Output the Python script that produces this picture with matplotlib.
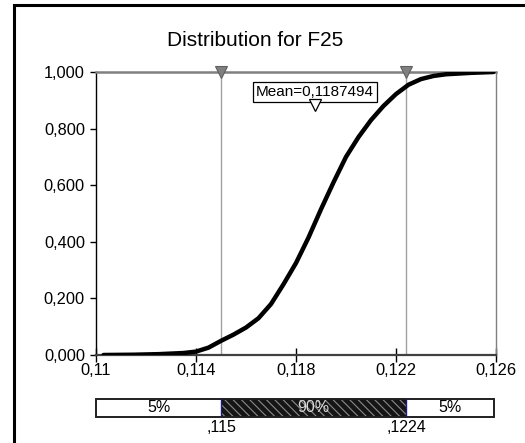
import matplotlib
matplotlib.use("Agg")
import matplotlib.pyplot as plt
from matplotlib.patches import Rectangle
from matplotlib.ticker import FixedLocator

plt.rcParams['font.family'] = ['Liberation Sans', 'DejaVu Sans']
plt.rcParams['hatch.linewidth'] = 0.8

# Cumulative distribution of F25
values = [0.1103, 0.1115, 0.1125, 0.1135, 0.1140, 0.1145, 0.1150, 0.1155,
          0.1160, 0.1165, 0.1170, 0.1175, 0.1180, 0.1185, 0.1190, 0.1195,
          0.1200, 0.1205, 0.1210, 0.1215, 0.1220, 0.1225, 0.1230, 0.1235,
          0.1240, 0.1250, 0.1259]
cum_prob = [0.000, 0.001, 0.003, 0.007, 0.012, 0.026, 0.050, 0.072,
            0.097, 0.130, 0.180, 0.250, 0.325, 0.415, 0.515, 0.610,
            0.700, 0.770, 0.830, 0.880, 0.922, 0.955, 0.975, 0.986,
            0.992, 0.997, 1.000]

mean_value = 0.1187494
lower_pct, upper_pct = 0.115, 0.1224
band_labels = ["5%", "90%", "5%"]
band_edge_labels = [",115", ",1224"]

x_ticks = [0.11, 0.114, 0.118, 0.122, 0.126]
x_tick_labels = ["0,11", "0,114", "0,118", "0,122", "0,126"]
y_ticks = [0.0, 0.2, 0.4, 0.6, 0.8, 1.0]
y_tick_labels = ["0,000", "0,200", "0,400", "0,600", "0,800", "1,000"]

W, H = 525, 443
fig = plt.figure(figsize=(W / 100, H / 100), dpi=100)

# outer frame (left and top edges)
fig.add_artist(Rectangle((14 / W, -0.2), 1.5, 1.2 - 7 / H + 0.004,
                         transform=fig.transFigure, fill=False,
                         edgecolor='black', linewidth=2.2))

fig.text(255 / W, 1 - 40 / H, "Distribution for F25", ha='center', va='center',
         fontsize=15)

ax = fig.add_axes([96 / W, 1 - 355 / H, 400 / W, 283 / H])
ax.set_xlim(0.11, 0.126)
ax.set_ylim(0, 1.0)

ax.plot(values, cum_prob, color='black', linewidth=3.2, solid_capstyle='round',
        solid_joinstyle='round', zorder=5)

for v in (lower_pct, upper_pct):
    ax.axvline(v, color='#a0a0a0', linewidth=1.0, zorder=2)
    ax.plot([v], [1.0], marker='v', markersize=8, markerfacecolor='#808080',
            markeredgecolor='#606060', markeredgewidth=0.8, clip_on=False,
            zorder=6)

for side in ('top', 'right'):
    ax.spines[side].set_color('#808080')
ax.spines['top'].set_linewidth(1.8)
ax.spines['right'].set_linewidth(1.0)
ax.spines['left'].set_color('black')
ax.spines['left'].set_linewidth(1.0)
ax.spines['bottom'].set_color('#404040')
ax.spines['bottom'].set_linewidth(1.6)

ax.xaxis.set_major_locator(FixedLocator(x_ticks))
ax.set_xticklabels(x_tick_labels)
ax.yaxis.set_major_locator(FixedLocator(y_ticks))
ax.set_yticklabels(y_tick_labels)
ax.tick_params(axis='x', direction='inout', length=10, width=1, pad=1,
               labelsize=11.8)
ax.tick_params(axis='y', direction='out', length=4, width=1, pad=4,
               labelsize=11.8)

# mean annotation
ax.text(mean_value, 0.929, f"Mean={mean_value:.7f}".replace('.', ','),
        ha='center', va='center', fontsize=11,
        bbox=dict(boxstyle='square,pad=0.2', facecolor='white',
                  edgecolor='black', linewidth=0.9), zorder=7)
ax.plot([mean_value], [0.884], marker='v', markersize=9,
        markerfacecolor='white', markeredgecolor='black',
        markeredgewidth=0.9, zorder=8)

# probability band
bx = fig.add_axes([96 / W, 1 - 417 / H, 398 / W, 18 / H])
bx.set_xlim(0.11, 0.11 + 398 / 25000)
bx.set_ylim(0, 1)
bx.axis('off')
x0, x1 = bx.get_xlim()
bx.add_patch(Rectangle((x0, 0), lower_pct - x0, 1, facecolor='white',
                       edgecolor='none'))
bx.add_patch(Rectangle((upper_pct, 0), x1 - upper_pct, 1, facecolor='white',
                       edgecolor='none'))
bx.add_patch(Rectangle((lower_pct, 0), upper_pct - lower_pct, 1,
                       facecolor='#151515', edgecolor='#8a8a8a',
                       hatch='\\\\\\\\', linewidth=0))
bx.add_patch(Rectangle((x0, 0), x1 - x0, 1, fill=False, edgecolor='#202020',
                       linewidth=1.4, clip_on=False))
for v in (lower_pct, upper_pct):
    bx.plot([v, v], [0, 1], color='#1a1a80', linewidth=1.0)
centers = [(x0 + lower_pct) / 2, (lower_pct + upper_pct) / 2,
           (upper_pct + x1) / 2]
for c, lab, col in zip(centers, band_labels, ['black', '#d8d8d8', 'black']):
    bx.text(c, 0.5, lab, ha='center', va='center', fontsize=11.5, color=col)
for v, lab in zip((lower_pct, upper_pct), band_edge_labels):
    bx.text(v, -0.15, lab, ha='center', va='top', fontsize=11.5)

fig.savefig("out.png", dpi=100)
